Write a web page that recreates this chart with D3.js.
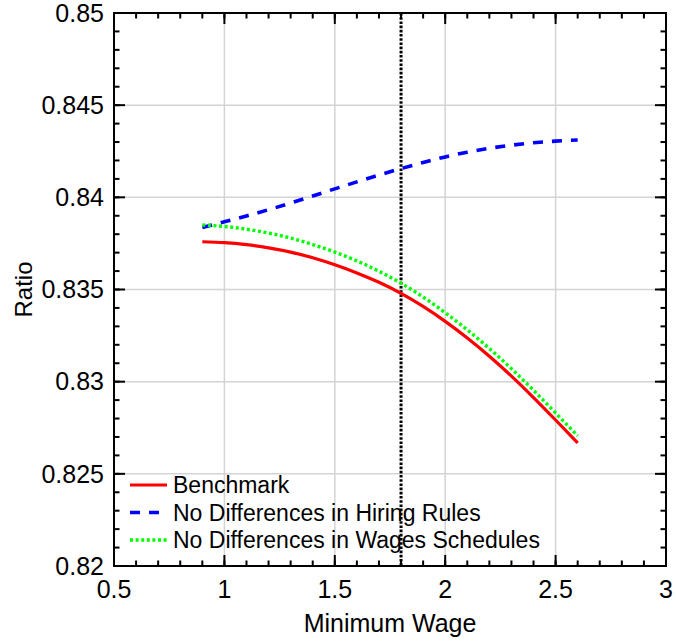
<!DOCTYPE html>
<html>
<head>
<meta charset="utf-8">
<script src="https://cdn.jsdelivr.net/npm/d3@7"></script>
<style>
  html, body { margin: 0; padding: 0; background: #fff; }
  svg { display: block; font-family: "Liberation Sans", Arial, sans-serif; }
  .grid line { stroke: #d4d4d4; stroke-width: 1.5; }
  .tick-label { font-size: 25px; fill: #000; }
</style>
</head>
<body>
<div id="chart"></div>
<script>
/* ── Data ── */
const wage = [0.9, 1.0, 1.1, 1.2, 1.3, 1.4, 1.5, 1.6, 1.7, 1.8,
              1.9, 2.0, 2.1, 2.2, 2.3, 2.4, 2.5, 2.6];

const benchmark = [0.83759, 0.83754, 0.83743, 0.83726, 0.83703, 0.83672, 0.83634, 0.83590, 0.83539, 0.83479,
                   0.83408, 0.83327, 0.83237, 0.83138, 0.83030, 0.82914, 0.82792, 0.82668];

const noHiring = [0.83836, 0.83867, 0.83899, 0.83933, 0.83969, 0.84007, 0.84046, 0.84084, 0.84121, 0.84156,
                  0.84189, 0.84219, 0.84245, 0.84266, 0.84283, 0.84296, 0.84305, 0.84311];

const noWages = [0.83850, 0.83842, 0.83827, 0.83806, 0.83779, 0.83744, 0.83703, 0.83655, 0.83599, 0.83534,
                 0.83459, 0.83374, 0.83281, 0.83180, 0.83070, 0.82953, 0.82830, 0.82706];

const xTicks = [0.5, 1, 1.5, 2, 2.5, 3];
const yTicks = [0.82, 0.825, 0.83, 0.835, 0.84, 0.845, 0.85];
const markerX = 1.8;

const seriesNames = ["Benchmark", "No Differences in Hiring Rules", "No Differences in Wages Schedules"];

/* ── Geometry ── */
const W = 676, H = 641;
const M = { left: 114, top: 13, right: 10, bottom: 75 };
const iw = W - M.left - M.right;
const ih = H - M.top - M.bottom;

const x = d3.scaleLinear().domain([0.5, 3]).range([0, iw]);
const y = d3.scaleLinear().domain([0.82, 0.85]).range([ih, 0]);

const svg = d3.select('#chart').append('svg')
  .attr('width', W).attr('height', H);

const g = svg.append('g').attr('transform', `translate(${M.left},${M.top})`);

/* ── Grid ── */
const grid = g.append('g').attr('class', 'grid');
grid.selectAll('.gx').data(xTicks.slice(1, -1)).join('line')
  .attr('x1', d => x(d)).attr('x2', d => x(d))
  .attr('y1', 0).attr('y2', ih);
grid.selectAll('.gy').data(yTicks.slice(1, -1)).join('line')
  .attr('y1', d => y(d)).attr('y2', d => y(d))
  .attr('x1', 0).attr('x2', iw);

/* ── Vertical marker ── */
g.append('line')
  .attr('x1', x(markerX)).attr('x2', x(markerX))
  .attr('y1', 0).attr('y2', ih)
  .attr('stroke', '#000').attr('stroke-width', 3)
  .attr('stroke-dasharray', '2.6,1.6');

/* ── Series ── */
const line = d3.line()
  .x((d, i) => x(wage[i]))
  .y(d => y(d))
  .curve(d3.curveNatural);

const styles = [
  { data: benchmark, color: '#ff0000', dash: null,    w: 3.2 },
  { data: noHiring,  color: '#0000ff', dash: '10,9',  w: 3.6 },
  { data: noWages,   color: '#00ff00', dash: '3,2.6', w: 3.4 }
];

styles.forEach(s => {
  g.append('path')
    .attr('d', line(s.data))
    .attr('fill', 'none')
    .attr('stroke', s.color)
    .attr('stroke-width', s.w)
    .attr('stroke-dasharray', s.dash);
});

/* ── Axes box with inward ticks on all sides ── */
const ax = g.append('g');
ax.append('rect')
  .attr('x', 0).attr('y', 0).attr('width', iw).attr('height', ih)
  .attr('fill', 'none').attr('stroke', '#000').attr('stroke-width', 2);

const xMinor = d3.range(0.5, 3.0001, 0.1);
const yMinor = d3.range(0.82, 0.85001, 0.001);

function tickLines(vals, len, horizontal) {
  vals.forEach(v => {
    if (horizontal) {
      const px = x(v);
      ax.append('line').attr('x1', px).attr('x2', px).attr('y1', ih).attr('y2', ih - len)
        .attr('stroke', '#000').attr('stroke-width', 2);
      ax.append('line').attr('x1', px).attr('x2', px).attr('y1', 0).attr('y2', len)
        .attr('stroke', '#000').attr('stroke-width', 2);
    } else {
      const py = y(v);
      ax.append('line').attr('y1', py).attr('y2', py).attr('x1', 0).attr('x2', len)
        .attr('stroke', '#000').attr('stroke-width', 2);
      ax.append('line').attr('y1', py).attr('y2', py).attr('x1', iw).attr('x2', iw - len)
        .attr('stroke', '#000').attr('stroke-width', 2);
    }
  });
}
tickLines(xMinor, 5.5, true);
tickLines(xTicks, 11, true);
tickLines(yMinor, 5.5, false);
tickLines(yTicks, 11, false);

/* ── Tick labels ── */
g.selectAll('.xl').data(xTicks).join('text')
  .attr('class', 'tick-label')
  .attr('x', d => x(d)).attr('y', ih + 32)
  .attr('text-anchor', 'middle')
  .text(d => d);

g.selectAll('.yl').data(yTicks).join('text')
  .attr('class', 'tick-label')
  .attr('x', -10).attr('y', d => y(d))
  .attr('dy', '0.35em')
  .attr('text-anchor', 'end')
  .text(d => d);

/* ── Axis titles ── */
g.append('text')
  .attr('x', iw / 2).attr('y', ih + 66)
  .attr('text-anchor', 'middle')
  .attr('font-size', 25)
  .text('Minimum Wage');

g.append('text')
  .attr('transform', `translate(${32 - M.left},${ih / 2}) rotate(-90)`)
  .attr('text-anchor', 'middle')
  .attr('font-size', 24)
  .text('Ratio');

/* ── Legend ── */
const leg = g.append('g').attr('transform', `translate(${130 - M.left},${485 - M.top})`);
styles.forEach((s, i) => {
  const row = leg.append('g').attr('transform', `translate(0,${i * 27.5})`);
  row.append('line')
    .attr('x1', 0).attr('x2', 37).attr('y1', 0).attr('y2', 0)
    .attr('stroke', s.color).attr('stroke-width', s.w)
    .attr('stroke-dasharray', s.dash);
  row.append('text')
    .attr('x', 43).attr('y', 0).attr('dy', '0.35em')
    .attr('font-size', 23)
    .text(seriesNames[i]);
});
</script>
</body>
</html>
